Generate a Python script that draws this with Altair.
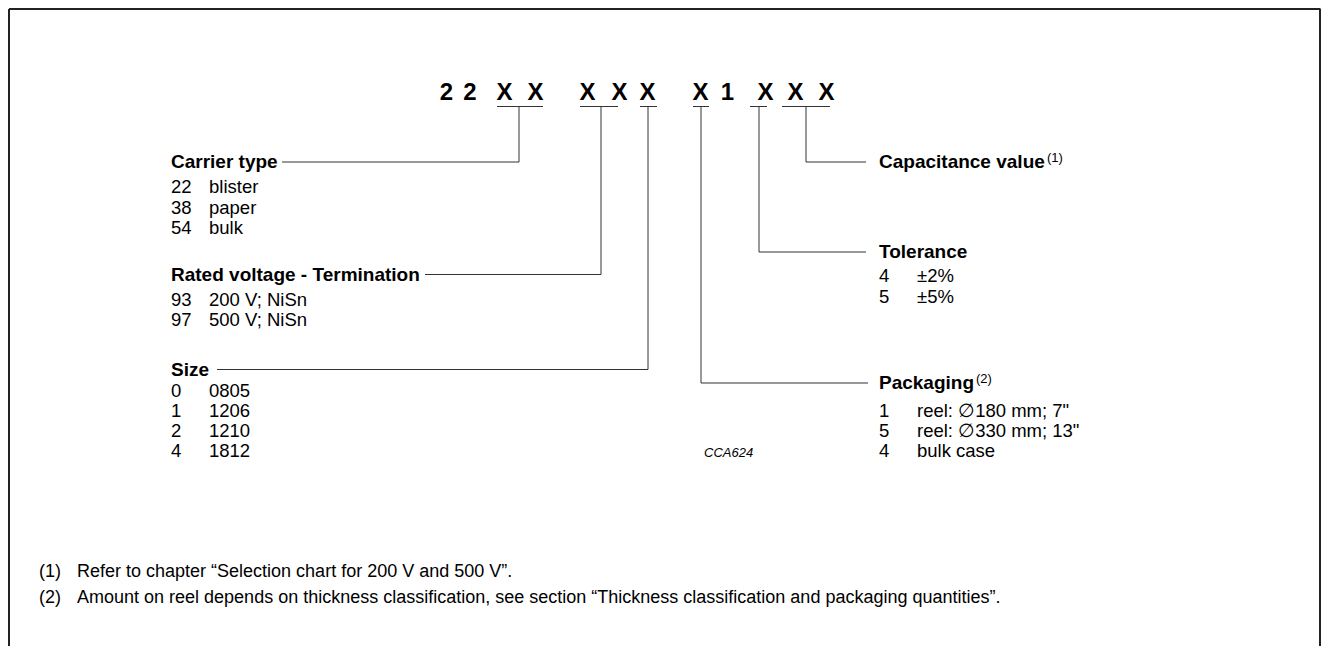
import altair as alt
import pandas as pd

# ---------------- content ----------------
code_chars = ["2", "2", "X", "X", "X", "X", "X", "X", "1", "X", "X", "X"]

carrier_label = "Carrier type"
carrier_codes = ["22", "38", "54"]
carrier_names = ["blister", "paper", "bulk"]

voltage_label = "Rated voltage - Termination"
voltage_codes = ["93", "97"]
voltage_names = ["200 V; NiSn", "500 V; NiSn"]

size_label = "Size"
size_codes = ["0", "1", "2", "4"]
size_names = ["0805", "1206", "1210", "1812"]

cap_label = "Capacitance value"
tol_label = "Tolerance"
tol_codes = ["4", "5"]
tol_names = ["\u00b12%", "\u00b15%"]

pack_label = "Packaging"
pack_codes = ["1", "5", "4"]
pack_names = ["reel: \u2205180 mm; 7\"", "reel: \u2205330 mm; 13\"", "bulk case"]

figure_id = "CCA624"
footnotes = [
    ("(1)", "Refer to chapter \u201cSelection chart for 200 V and 500 V\u201d."),
    ("(2)", "Amount on reel depends on thickness classification, see section "
            "\u201cThickness classification and packaging quantities\u201d."),
]
superscripts = ["(1)", "(2)"]

# ---------------- layout (page pixel coordinates) ----------------
code_x = [446.5, 470, 504.5, 535.5, 587.5, 619.5, 647.5, 700.5, 727.5, 765.5, 795.5, 826.5]
code_y = 100
under_y = 106.5
underlines = [(497, 543), (580, 618), (640, 657), (693, 709), (750, 767), (782, 830)]
drops = [519, 601, 648, 701, 759, 806]

LX, LVX = 171, 209
RX, RVX = 879, 917

# label, codes, names, label baseline, first-entry baseline, row step, drop x, line end x
left_groups = [
    (carrier_label, carrier_codes, carrier_names, 168, 193, 20.5, drops[0], 282),
    (voltage_label, voltage_codes, voltage_names, 280.5, 305.5, 20.5, drops[1], 425),
    (size_label, size_codes, size_names, 375.5, 396.5, 20, drops[2], 217),
]
right_groups = [
    (cap_label, [], [], 168, 0, 20, drops[5], 866),
    (tol_label, tol_codes, tol_names, 258, 282, 20.5, drops[4], 866),
    (pack_label, pack_codes, pack_names, 389, 416.5, 20, drops[3], 868),
]

bold_rows, reg_rows, seg_rows = [], [], []
for lab, codes, names, ly, ey, step, dx, hx in left_groups:
    bold_rows.append(dict(t=lab, x=LX, y=ly))
    for i, (c, n) in enumerate(zip(codes, names)):
        reg_rows.append(dict(t=c, x=LX, y=ey + i * step))
        reg_rows.append(dict(t=n, x=LVX, y=ey + i * step))
    seg_rows.append(dict(x=dx, x2=dx, y=under_y, y2=ly - 6))
    seg_rows.append(dict(x=hx, x2=dx, y=ly - 6, y2=ly - 6))
for lab, codes, names, ly, ey, step, dx, hx in right_groups:
    bold_rows.append(dict(t=lab, x=RX, y=ly))
    for i, (c, n) in enumerate(zip(codes, names)):
        reg_rows.append(dict(t=c, x=RX, y=ey + i * step))
        reg_rows.append(dict(t=n, x=RVX, y=ey + i * step))
    seg_rows.append(dict(x=dx, x2=dx, y=under_y, y2=ly - 6))
    seg_rows.append(dict(x=dx, x2=hx, y=ly - 6, y2=ly - 6))
for a, b in underlines:
    seg_rows.append(dict(x=a, x2=b, y=under_y, y2=under_y))

sup_rows = [dict(t=superscripts[0], x=1047, y=162), dict(t=superscripts[1], x=976, y=383)]
foot_rows = []
for i, (n, txt) in enumerate(footnotes):
    foot_rows.append(dict(t=n, x=39, y=577 + i * 26))
    foot_rows.append(dict(t=txt, x=77, y=577 + i * 26))

W, H = 1313, 638
frame_rows = [
    dict(x=9, x2=W + 7.5, y=9, y2=9),
    dict(x=9, x2=9, y=9, y2=H + 8),
    dict(x=W + 7, x2=W + 7, y=9, y2=H + 8),
]

xs = alt.Scale(domain=[8, 8 + W], range=[0, W])
ys = alt.Scale(domain=[8 + H, 8])
FONT = "Liberation Sans"


def enc_text(df):
    return alt.Chart(pd.DataFrame(df)).encode(
        x=alt.X("x:Q", scale=xs, axis=None),
        y=alt.Y("y:Q", scale=ys, axis=None),
        text="t:N",
    )


def enc_seg(df):
    return alt.Chart(pd.DataFrame(df)).encode(
        x=alt.X("x:Q", scale=xs, axis=None),
        x2="x2:Q",
        y=alt.Y("y:Q", scale=ys, axis=None),
        y2="y2:Q",
    )


code_df = pd.DataFrame(dict(t=code_chars, x=code_x, y=[code_y] * len(code_chars)))

layers = [
    enc_seg(frame_rows).mark_rule(color="#222", strokeWidth=2),
    enc_seg(seg_rows).mark_rule(color="#333", strokeWidth=1),
    enc_text(code_df).mark_text(font=FONT, fontSize=24, fontWeight="bold", align="center",
                                baseline="alphabetic", color="#000"),
    enc_text(bold_rows).mark_text(font=FONT, fontSize=19, fontWeight="bold", align="left",
                                  baseline="alphabetic", color="#000"),
    enc_text(reg_rows).mark_text(font=FONT, fontSize=18.5, align="left",
                                 baseline="alphabetic", color="#000"),
    enc_text(sup_rows).mark_text(font=FONT, fontSize=13, align="left",
                                 baseline="alphabetic", color="#000"),
    enc_text([dict(t=figure_id, x=704, y=456.5)]).mark_text(font=FONT, fontSize=13, fontStyle="italic",
                                                           align="left", baseline="alphabetic", color="#000"),
    enc_text(foot_rows).mark_text(font=FONT, fontSize=18, align="left",
                                  baseline="alphabetic", color="#000"),
]

chart = alt.layer(*layers).properties(
    width=W, height=H, autosize=alt.AutoSizeParams(type="none"), padding=0
).configure_view(stroke=None)

chart.save("out.html", embed_options={"renderer": "svg", "actions": False})
